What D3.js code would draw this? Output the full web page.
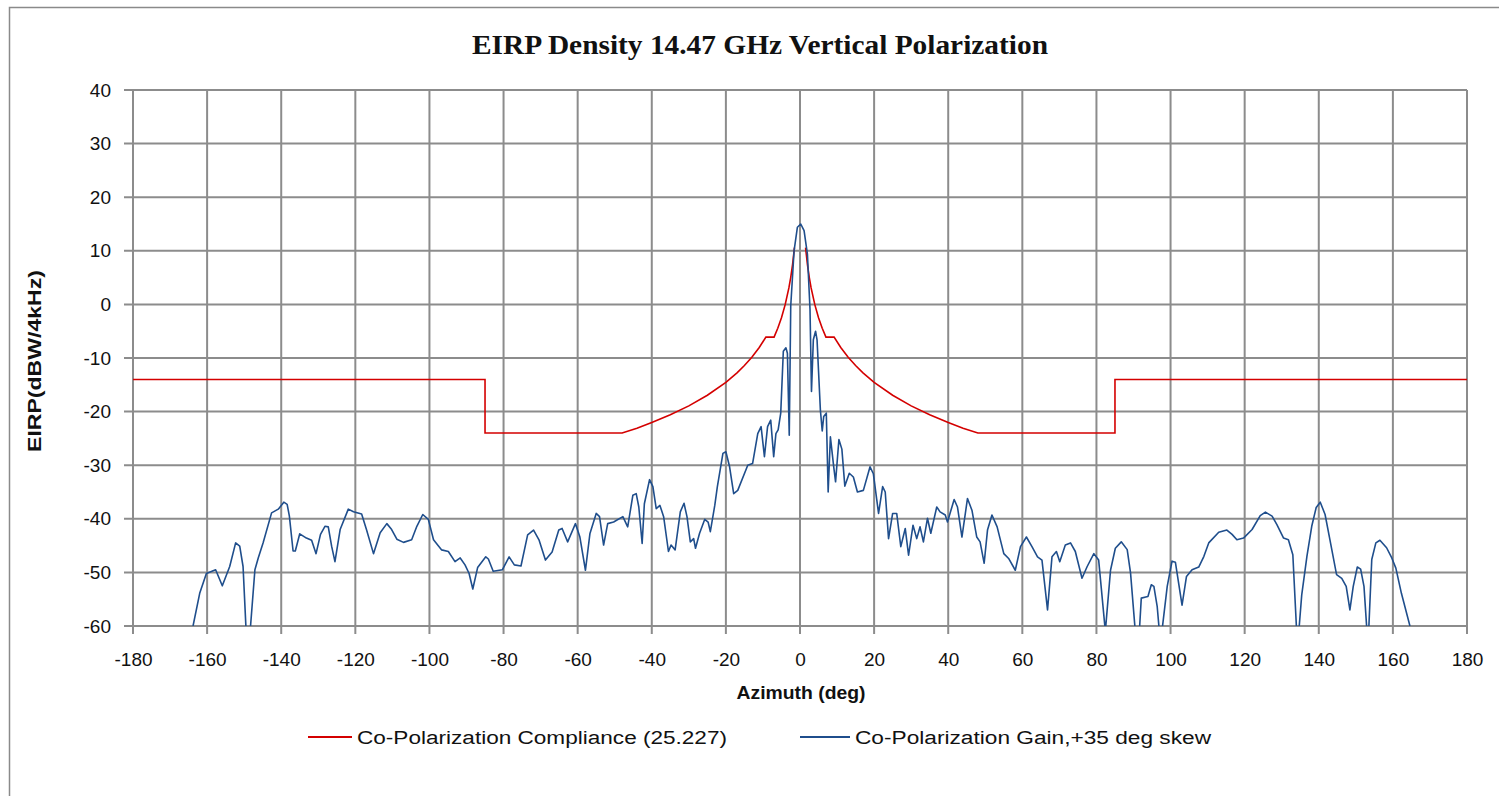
<!DOCTYPE html>
<html><head><meta charset="utf-8">
<script src="https://cdn.jsdelivr.net/npm/d3@7"></script>
<style>body{margin:0;background:#fff}svg{display:block}</style>
</head><body>
<svg id="c" width="1499" height="796"></svg>
<script>
const title = "EIRP Density 14.47 GHz Vertical Polarization";
const xTitle = "Azimuth (deg)";
const yTitle = "EIRP(dBW/4kHz)";
const xTicks = [-180,-160,-140,-120,-100,-80,-60,-40,-20,0,20,40,60,80,100,120,140,160,180];
const yTicks = [40,30,20,10,0,-10,-20,-30,-40,-50,-60];
const seriesNames = ["Co-Polarization Compliance (25.227)", "Co-Polarization Gain,+35 deg skew"];

// null = gap in the compliance mask around boresight
const redAz  = [-180,-85,-85,-48,-44,-40,-35,-30,-25,-20,-17,-15,-13,-11,-9.2,-7,-6,-5,-4,-3,-2.5,-2,-1.5,
                0,
                1.5,2,2.5,3,4,5,6,7,9.2,11,13,15,17,20,25,30,35,40,44,48,85,85,180];
const redVal = [-14,-14,-24,-24,-23.1,-22.05,-20.6,-18.93,-16.95,-14.53,-12.76,-11.4,-9.85,-8.03,-6.1,-6.1,-4.45,-2.47,-0.05,3.07,5.05,7.47,10.6,
                null,
                10.6,7.47,5.05,3.07,-0.05,-2.47,-4.45,-6.1,-6.1,-8.03,-9.85,-11.4,-12.76,-14.53,-16.95,-18.93,-20.6,-22.05,-23.1,-24,-24,-14,-14];

const blueAz = [-165,-163.8,-162,-160.2,-157.7,-155.9,-153.9,-152.3,-151.2,-150.3,-149.4,-148.5,-147.1,-146.2,-144.9,-142.6,-140.8,-139.3,-138.4,-137.8,
  -136.8,-136.2,-135,-133.2,-131.8,-130.6,-129.4,-128.2,-127.3,-126.4,-125.5,-124.1,-121.9,-120.5,-118.3,-117,-115.1,-113.3,-111.5,-110.2,
  -108.8,-107,-104.8,-103.4,-101.8,-100.3,-98.9,-96.7,-94.9,-93.1,-91.7,-90.4,-89.3,-88.3,-87,-84.8,-84.1,-82.8,-80.3,-78.5,
  -77.1,-75.3,-73.5,-71.9,-70.4,-68.7,-66.9,-65.1,-64.2,-62.7,-60.6,-59.4,-57.9,-56.7,-55,-54.1,-53,-51.9,-50.3,-47.8,
  -46.5,-45.1,-44.2,-43.5,-42.6,-42,-40.6,-39.7,-38.8,-37.8,-36.8,-35.5,-34.8,-33.7,-32.3,-31.3,-30.5,-29.6,-28.7,-28.2,
  -27.1,-25.7,-24.8,-24.2,-23,-22.3,-20.8,-20,-19,-17.9,-16.8,-14.1,-12.8,-11.4,-10.5,-9.6,-8.75,-7.9,-7.1,-6.5,
  -5.9,-5.2,-4.5,-3.8,-3.4,-2.9,-2.5,-1.6,-0.7,0.2,1.1,2,2.7,3.1,3.6,4.2,4.6,5.5,6,6.4,
  7.1,7.6,8.2,9.1,9.6,10.5,11.3,12.1,13.3,14.4,15.5,17.1,18.9,19.8,21.2,22.3,23,23.9,25,26.1,
  27.2,28.4,29.3,30.5,31.5,32.4,33.3,34.4,35.3,36.9,37.8,39.2,39.8,41.6,42.5,43.7,45.2,46.4,47.7,48.6,
  49.7,50.6,51.8,53.2,55,56.3,58.1,59.5,61.1,62.6,64.1,65.3,66.8,68,69.2,70.1,71.6,73,74.3,76.1,
  77.5,79.3,80.6,82.4,83.8,85.1,86.7,88.3,89.2,90.6,91.5,92.1,93.3,93.9,94.8,95.5,96.4,97.1,97.5,99.1,
  100.4,101.3,103.1,104.3,105.8,107.6,109,110.3,113,115.2,116.6,117.9,119.7,122,124.2,125.6,127.4,128.7,130.5,131.8,
  133,134.1,134.5,135.4,136.8,138.1,139.3,140.4,141.7,143,144.8,146.2,147.4,148.4,149.3,150.4,151.3,152.2,153.1,153.4,
  154.3,155.4,156.5,158.3,159.7,160.8,162.3,164.6,165.5];
const blueVal = [-62,-60,-53.9,-50.2,-49.5,-52.5,-48.9,-44.5,-45.1,-48.9,-62,-62,-49.5,-47.3,-44.5,-38.9,-38.2,-36.9,-37.3,-39.5,
  -46,-46,-42.8,-43.6,-44,-46.5,-42.9,-41.4,-41.5,-45.1,-48,-42,-38.2,-38.7,-39.1,-42,-46.5,-42.6,-40.9,-42,
  -43.8,-44.4,-43.9,-41.4,-39.2,-40.1,-43.9,-45.8,-46.1,-48,-47.3,-48.6,-50.2,-53.1,-49.1,-47.1,-47.5,-49.8,-49.5,-47.1,
  -48.6,-48.8,-43,-42.1,-44,-47.7,-46.2,-42.1,-41.8,-44.3,-40.9,-43.4,-49.6,-42.8,-39,-39.6,-44.9,-40.9,-40.6,-39.6,
  -41.5,-35.6,-35.3,-37.8,-44.6,-37.2,-32.7,-34,-38.1,-37.5,-39.6,-46.1,-44.9,-45.8,-38.7,-37.1,-39.6,-44.3,-43.7,-45.5,
  -42.7,-40.1,-40.6,-42.4,-37.5,-34,-27.8,-27.5,-30.3,-35.3,-34.7,-30,-29.7,-24.1,-22.8,-28.4,-22.8,-21.6,-28.4,-24.1,
  -23.4,-20.3,-8.75,-8.1,-9.1,-24.4,-0.3,10,14.4,15,13.75,9.4,-0.9,-16.25,-6.6,-5,-6.6,-19.7,-23.6,-20.9,
  -20.3,-35,-24.7,-30.3,-33.1,-25.2,-27,-33.9,-31.5,-32.2,-35,-34.7,-30.3,-31.6,-39,-34,-35,-43.7,-39,-39,
  -45.2,-41.8,-46.8,-41.2,-43.7,-41.5,-44.3,-39.9,-42.7,-37.8,-38.7,-39.3,-40.6,-36.4,-37.8,-43.4,-36.2,-38.4,-43.4,-44.3,
  -48.3,-42.1,-39.3,-41.5,-46.5,-47.4,-49.6,-45.2,-43.4,-45.2,-47.1,-47.7,-57,-47.1,-46.1,-48,-44.9,-44.5,-46.1,-51.1,
  -48.9,-46.5,-47.7,-61,-49.6,-45.5,-44.3,-45.75,-50.1,-62,-62,-54.8,-54.6,-54.5,-52.3,-52.6,-56.4,-62,-62,-52.6,
  -47.9,-48.1,-56.1,-50.75,-49.5,-49,-47,-44.5,-42.5,-42.1,-42.9,-43.9,-43.6,-42,-39.4,-38.75,-39.5,-41.1,-43.6,-43.9,
  -46.7,-62,-62,-54.2,-47,-41.4,-37.9,-36.9,-39.2,-43.9,-50.4,-51.1,-52.6,-57,-52.6,-49,-49.4,-52.6,-62,-62,
  -47.6,-44.5,-44,-45.4,-47.3,-49.2,-53.9,-60,-62];

const svg = d3.select("#c");
const m = {l:133, r:1467, t:90, b:626};
const x = d3.scaleLinear().domain([-180,180]).range([m.l, m.r]);
const y = d3.scaleLinear().domain([-60,40]).range([m.b, m.t]);
const gridColor = "#8c8c8c";
const font = "'Liberation Sans', Arial, sans-serif";

// outer frame
svg.append("rect").attr("x",9.5).attr("y",7.5).attr("width",1500).attr("height",800)
  .attr("fill","#fff").attr("stroke","#8a8a8a").attr("stroke-width",1.5);

// title
svg.append("text").attr("x",760).attr("y",54).attr("text-anchor","middle")
  .attr("font-family","'Liberation Serif','Times New Roman',serif").attr("font-weight","bold")
  .attr("font-size",27).attr("fill","#111")
  .attr("textLength",576).attr("lengthAdjust","spacingAndGlyphs").text(title);

// gridlines + tick marks
const gx = svg.append("g");
xTicks.forEach(t => {
  gx.append("line").attr("x1",x(t)).attr("x2",x(t)).attr("y1",m.t).attr("y2",m.b+8)
    .attr("stroke",gridColor).attr("stroke-width",2);
});
yTicks.forEach(t => {
  gx.append("line").attr("x1",m.l-9).attr("x2",m.r).attr("y1",y(t)).attr("y2",y(t))
    .attr("stroke",gridColor).attr("stroke-width",2);
});

// tick labels via d3 axes
const fmt = d => String(d);
const xAxis = svg.append("g").attr("transform",`translate(0,${m.b})`)
  .call(d3.axisBottom(x).tickValues(xTicks).tickSize(0).tickPadding(40).tickFormat(fmt));
const yAxis = svg.append("g").attr("transform",`translate(${m.l},0)`)
  .call(d3.axisLeft(y).tickValues(yTicks).tickSize(0).tickPadding(22).tickFormat(fmt));
[xAxis,yAxis].forEach(a => {
  a.select(".domain").remove();
  a.selectAll("text").attr("font-family",font).attr("font-size",19).attr("fill","#111");
});
xAxis.selectAll("text").attr("dy",0);

// clip
svg.append("clipPath").attr("id","clip").append("rect")
  .attr("x",m.l).attr("y",m.t).attr("width",m.r-m.l).attr("height",m.b-m.t);

const line = d3.line().defined(d => d[1] !== null).x(d => x(d[0])).y(d => y(d[1]));
const red = redAz.map((a,i) => [a, redVal[i]]);
const blue = blueAz.map((a,i) => [a, blueVal[i]]);
const plot = svg.append("g").attr("clip-path","url(#clip)");
plot.append("path").datum(red).attr("d",line).attr("fill","none")
  .attr("stroke","#d40000").attr("stroke-width",1.6);
plot.append("path").datum(blue).attr("d",line).attr("fill","none")
  .attr("stroke","#1f4e8c").attr("stroke-width",1.6).attr("stroke-linejoin","round");

// axis titles
svg.append("text").attr("x",801).attr("y",699).attr("text-anchor","middle")
  .attr("font-family",font).attr("font-weight","bold").attr("font-size",18).attr("fill","#111")
  .attr("textLength",129).attr("lengthAdjust","spacingAndGlyphs").text(xTitle);
svg.append("text").attr("transform","translate(41,361) rotate(-90)").attr("text-anchor","middle")
  .attr("font-family",font).attr("font-weight","bold").attr("font-size",18).attr("fill","#111")
  .attr("textLength",182).attr("lengthAdjust","spacingAndGlyphs").text(yTitle);

// legend
const legend = [
  {name: seriesNames[0], color:"#d40000", x0:308, x1:352, tx:357, tw:370},
  {name: seriesNames[1], color:"#1f4e8c", x0:800, x1:850, tx:855, tw:356}
];
legend.forEach(l => {
  svg.append("line").attr("x1",l.x0).attr("x2",l.x1).attr("y1",737).attr("y2",737)
    .attr("stroke",l.color).attr("stroke-width",1.8);
  svg.append("text").attr("x",l.tx).attr("y",744).attr("font-family",font).attr("font-size",18)
    .attr("fill","#111").attr("textLength",l.tw).attr("lengthAdjust","spacingAndGlyphs").text(l.name);
});
</script>
</body></html>
